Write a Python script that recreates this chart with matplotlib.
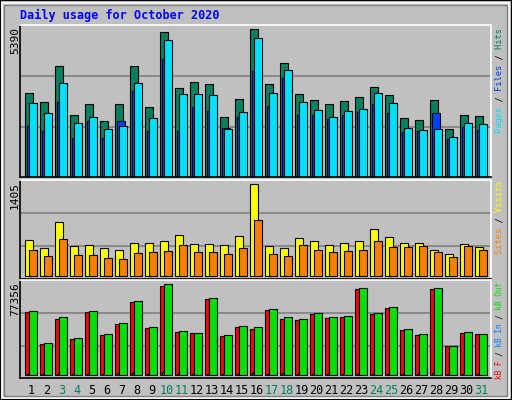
import matplotlib
matplotlib.use("Agg")
import matplotlib.pyplot as plt
from matplotlib.patches import Rectangle
import numpy as np

days = list(range(1, 32))
weekend = [3, 4, 10, 11, 17, 18, 24, 25, 31]
hits = [3050,2720,4037,2245,2648,2026,2648,4037,2538,5281,3233,3452,3379,2172,2830,5390,
        3379,4147,3013,2794,2648,2757,2904,3269,2977,2136,2063,2794,1733,2245,2209]
pages = [2684,2319,3416,1953,2172,1733,1843,3416,2136,4988,3013,3013,2977,1733,2355,5061,
         3050,3891,2720,2428,2172,2392,2465,3050,2684,1770,1697,1733,1441,1953,1916]
files = [1843,1660,2720,1404,2026,1404,2026,3123,1660,4293,1660,2538,2392,1770,2172,3855,
         2575,3599,2245,2245,2099,2245,2355,2648,2319,1624,1660,2319,1368,1807,1697]
visits = [550,428,825,458,473,428,397,504,504,534,626,489,489,473,611,1405,
          458,428,580,534,473,504,534,718,596,504,504,397,336,489,443]
sites = [397,305,565,321,321,275,260,351,366,382,473,366,366,336,428,855,
         336,305,473,397,366,382,397,534,443,443,458,366,290,458,397]
kb_f = [53560,26360,47610,30610,53560,34010,43360,62060,39960,75670,36560,35710,64620,33160,40810,39110,
        55260,47610,46760,51860,48460,49310,73120,51860,56960,38260,34010,73120,24660,35710,34860]
kb_out = [54410,27210,49310,31460,54410,34860,44210,62920,40810,77356,37410,35710,65470,34010,41660,40810,
          56110,49310,47610,52710,49310,50160,73970,52710,57810,39110,34860,73970,24660,36560,34860]
kb_in = [1200,1100,1100,1000,1200,900,2200,2300,1200,3200,1100,1000,1100,1000,1000,2100,
         1200,2100,1100,1100,1000,1000,1000,1100,1100,1000,900,2100,800,900,1000]

C_HITS, C_FILES, C_PAGES = "#008060", "#0040ff", "#00e0ff"
C_VIS, C_SITES = "#ffff00", "#ff8000"
C_KF, C_KIN, C_KOUT = "#ff0000", "#0080ff", "#00e000"
BG = "#c0c0c0"
MONO = "DejaVu Sans Mono"

fig = plt.figure(figsize=(5.12, 4.0), dpi=100, facecolor=BG)
W, H = 512.0, 400.0
fig.patches.append(Rectangle((0, 0), 1, 1, transform=fig.transFigure, fill=False, ec="black", lw=1.5))
fig.patches.append(Rectangle((2/W, 2/H), 1-5/W, 1-5/H, transform=fig.transFigure, fill=False, ec="white", lw=1.2))
fig.patches.append(Rectangle((4/W, 4/H), 1-9/W, 1-9/H, transform=fig.transFigure, fill=False, ec="#808080", lw=1))

x = np.array(days, dtype=float)
bw = 0.49
L = x - 0.35
xlim = (0.297, 0.297 + 470.7/15)

def mkax(top, bot):
    ax = fig.add_axes([20/W, 1-bot/H, 470.7/W, (bot-top)/H])
    ax.set_facecolor(BG)
    ax.set_xlim(*xlim)
    for s in ax.spines.values():
        s.set_color("black"); s.set_linewidth(1.2)
    ax.spines["top"].set_color("white"); ax.spines["right"].set_color("white")
    ax.tick_params(length=0, labelleft=False, labelbottom=False)
    ax.set_axisbelow(True)
    ax.yaxis.grid(True, color="#808080", lw=1.2)
    return ax

kw = dict(align="edge", ec="black", lw=0.8)
ax1 = mkax(25, 177)
ax1.set_ylim(-11, 5548)
ax1.set_yticks([1818, 3683])
ax1.bar(L, hits, bw, color=C_HITS, **kw)
ax1.bar(L + 0.133, files, bw, color=C_FILES, **kw)
ax1.bar(L + 0.267, pages, bw, color=C_PAGES, **kw)

ax2 = mkax(180, 279.3)
ax2.set_ylim(-46, 1470)
ax2.set_yticks([458, 962])
ax2.bar(L, visits, bw, color=C_VIS, **kw)
ax2.bar(L + 0.267, sites, bw, color=C_SITES, **kw)

ax3 = mkax(280.3, 378.3)
ax3.set_ylim(-2550, 80750)
ax3.set_yticks([24650, 52700])
ax3.bar(L, kb_f, 0.27, color=C_KF, **kw)
ax3.bar(L + 0.1, kb_in, 0.17, color=C_KIN, **kw)
ax3.bar(L + 0.267, kb_out, bw, color=C_KOUT, **kw)
ax3.set_xticks(x + 0.07)
ax3.set_xticklabels([str(d) for d in days], fontsize=8.5, family=MONO)
ax3.tick_params(labelbottom=True, pad=4)
for lab, d in zip(ax3.get_xticklabels(), days):
    lab.set_color("#008060" if d in weekend else "black")

fig.text(20/W, 1-15/H, "Daily usage for October 2020", color="#0000ff", fontsize=8.5,
         family=MONO, fontweight="bold", va="center", ha="left")

for val, top in [("5390", 27), ("1405", 182), ("77356", 282)]:
    fig.text(15/W, 1-top/H, val, rotation=90, fontsize=8, family=MONO, va="top", ha="center")

def rlabel(parts, top, fs):
    full = "".join(p for p, _ in parts)
    pos = 0
    for p, c in parts:
        s = " " * pos + p + " " * (len(full) - pos - len(p))
        fig.text(500/W, 1-top/H, s, rotation=90, fontsize=fs, family=MONO,
                 color=c, va="top", ha="center")
        pos += len(p)

rlabel([("Pages", C_PAGES), (" / ", "black"), ("Files", C_FILES), (" / ", "black"), ("Hits", C_HITS)], 28, 6.3)
rlabel([("Sites", C_SITES), (" / ", "black"), ("Visits", C_VIS)], 181, 6.3)
rlabel([("kB F", C_KF), (" / ", "black"), ("kB In", C_KIN), (" / ", "black"), ("kB Out", C_KOUT)], 282, 5.6)

fig.savefig("out.png", dpi=100, facecolor=BG)
